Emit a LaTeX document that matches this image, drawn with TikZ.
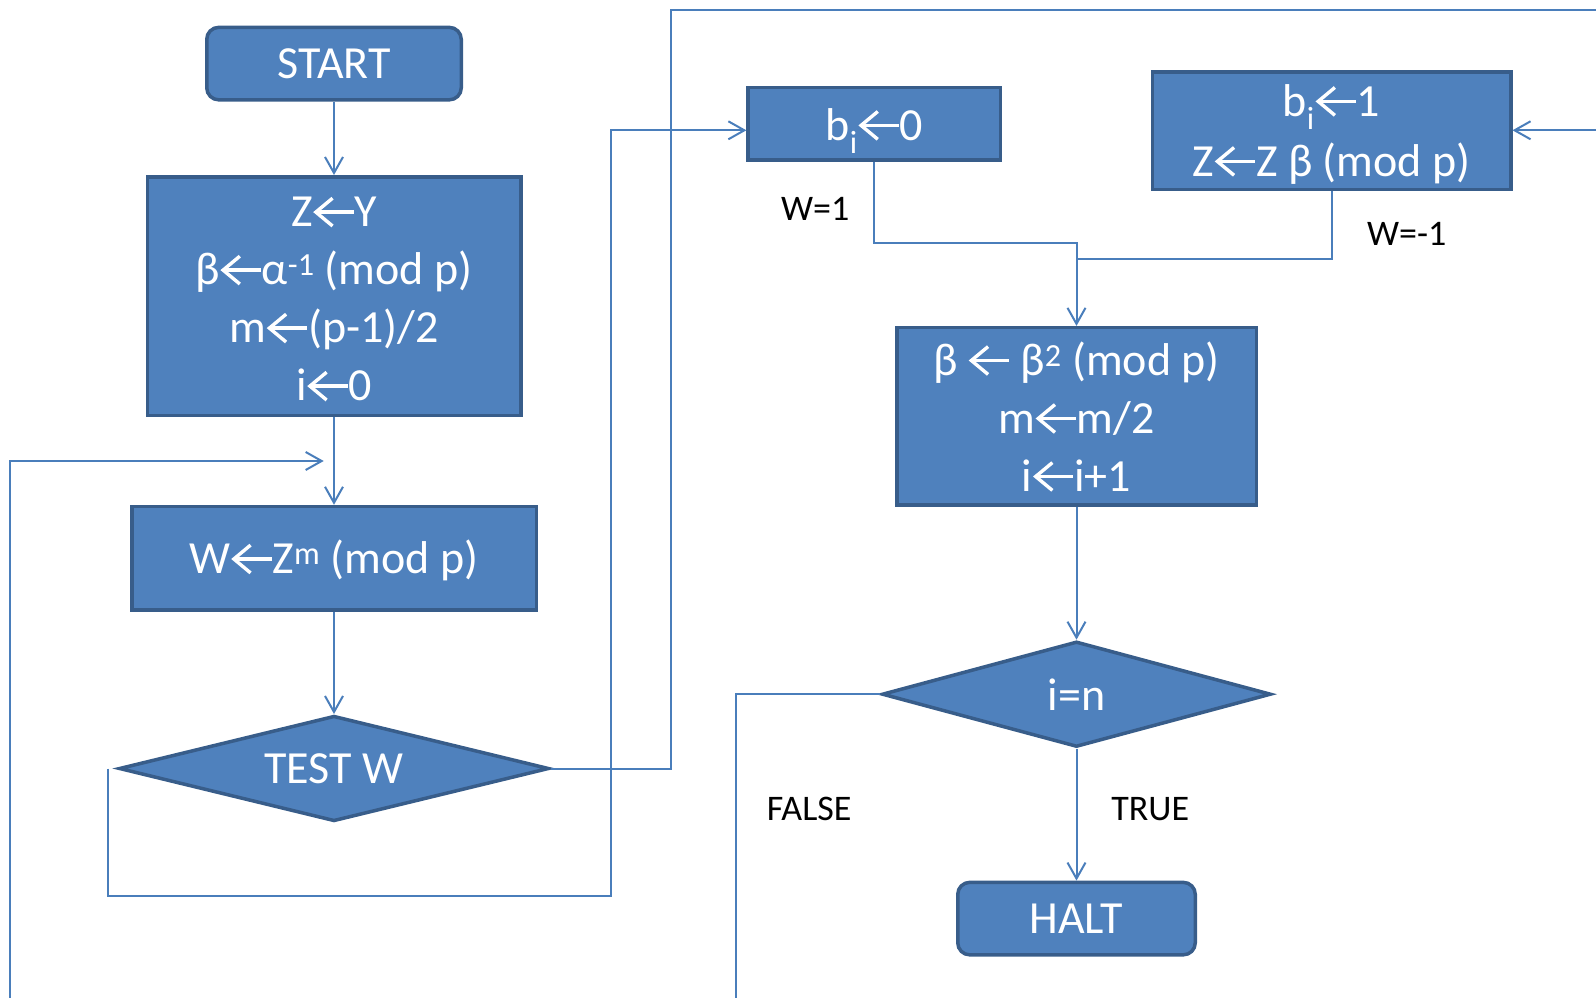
\documentclass[tikz,border=0pt]{standalone}
\usepackage{fontspec}
\setmainfont{Carlito}
\usetikzlibrary{shapes.geometric,arrows.meta}
\definecolor{boxfill}{HTML}{4F81BD}
\definecolor{boxline}{HTML}{385D8A}
\definecolor{lineblue}{HTML}{4A7EBB}
% left arrow glyph, drawn like the reference's open-head arrow
\newcommand{\lar}{\tikz[baseline=0pt,x=1pt,y=1pt]{\useasboundingbox (-1.5,0) rectangle (40.5,29);
  \draw[white,line width=3.4pt,line join=miter] (18.5,28.5) -- (1.8,14.6) -- (18.5,0.7);
  \draw[white,line width=3.4pt] (2.5,14.6) -- (39.5,14.6);}}
% first line with forced height / last line with no depth
\newcommand{\firstln}[2]{\raisebox{0pt}[#1][0pt]{#2}}
\newcommand{\lastln}[1]{\raisebox{0pt}[\height][0pt]{#1}}
\begin{document}
\begin{tikzpicture}[x=1pt,y=-1pt,
  blk/.style={draw=boxline, fill=boxfill, line width=3.5pt, text=white, align=center, inner sep=0pt, font=\fontsize{46}{58}\selectfont},
  term/.style={blk, rounded corners=12pt},
  dec/.style={blk, diamond, aspect=4},
  cline/.style={draw=lineblue, line width=2pt},
  arr/.style={cline, -{Straight Barb[length=16pt,width=18pt]}},
  lbl/.style={text=black, font=\fontsize{36}{40}\selectfont, inner sep=0pt},
]
\useasboundingbox (0,0) rectangle (1596,998);
% nodes
\node[term, minimum width=254.5pt, minimum height=72.5pt] (start) at (334,63.6) {START};
\node[blk, minimum width=373.5pt, minimum height=238.5pt] (init) at (334,296)
  {\firstln{35.4pt}{Z\lar Y}\\β\lar α\textsuperscript{-1} (mod p)\\m\lar(p-1)/2\\\lastln{i\lar 0}};
\node[blk, minimum width=404.5pt, minimum height=103.5pt] (wbox) at (334,558.3)
  {\firstln{30.6pt}{W\lar Z\textsuperscript{m} (mod p)}};
\node[dec, minimum width=430pt, minimum height=105.5pt] (test) at (334,768.5) {TEST W};
\node[blk, minimum width=252.5pt, minimum height=72.5pt] (b0) at (874.4,123.7)
  {\firstln{32.6pt}{b\textsubscript{i}\lar 0}};
\node[blk, minimum width=358.5pt, minimum height=117.5pt, font=\fontsize{46}{60}\selectfont] (b1) at (1331.5,130.8)
  {\firstln{30.4pt}{b\textsubscript{i}\lar 1}\\\lastln{Z\lar Z β (mod p)}};
\node[blk, minimum width=359.5pt, minimum height=177.5pt] (upd) at (1076.5,416.4)
  {\firstln{33.4pt}{β \lar{} β\textsuperscript{2} (mod p)}\\m\lar m/2\\\lastln{i\lar i+1}};
\node[dec, minimum width=389pt, minimum height=105.5pt] (cmp) at (1076.5,694.2) {i=n};
\node[term, minimum width=237.5pt, minimum height=72.5pt] (halt) at (1076.5,918.6) {HALT};
% labels
\node[lbl] (lw1) at (815.3,208.7) {W=1};
\node[lbl] (lwm1) at (1406.7,234.1) {W=-1};
\node[lbl] (lfalse) at (809.2,809.2) {FALSE};
\node[lbl] (ltrue) at (1150.2,809.2) {TRUE};
% helper coordinates
\coordinate (loopbot) at (10.2,998);
\coordinate (looptip) at (323.7,461);
\coordinate (topright) at (1596,10.2);
\coordinate (jleft) at (610.7,130.3);
\coordinate (y0) at (0,243.3);
\coordinate (y1) at (0,258.5);
\coordinate (rin) at (1596,130.3);
\coordinate (fbot) at (736,998);
% connectors
\draw[arr] (start.south) -- (init.north);
\draw[arr] (init.south) -- (wbox.north);
\draw[arr] (wbox.south) -- (test.north);
\draw[arr] (loopbot) |- (looptip);
\draw[cline] (test.east) -- (670.8,768.5) |- (topright);
\draw[arr] ([xshift=-9pt]test.west) -- ++(0,127.2) -| (jleft) -- (jleft -| b0.west);
\draw[arr] (b0.south) |- (upd.north |- y0) -- (upd.north);
\draw[cline] (b1.south) |- (upd.north |- y1);
\draw[arr] (rin) -- (rin -| b1.east);
\draw[arr] (upd.south) -- (cmp.north);
\draw[arr] (cmp.south) -- (halt.north);
\draw[cline] (cmp.west) -| (fbot);
\end{tikzpicture}
\end{document}
